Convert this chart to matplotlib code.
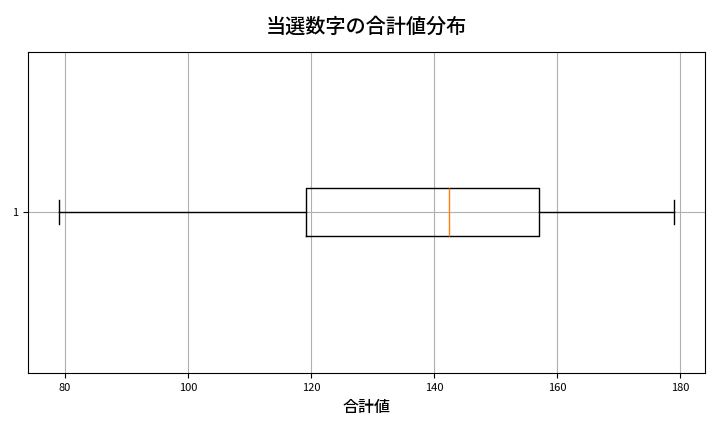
import matplotlib
matplotlib.use('Agg')
import matplotlib.pyplot as plt

plt.rcParams['font.family'] = ['Noto Sans CJK JP', 'DejaVu Sans']

# box plot summary
whisker_low = 79
q1 = 119.2
median = 142.4
q3 = 157.1
whisker_high = 179
box_label = '1'

stats = [{
    'whislo': whisker_low,
    'q1': q1,
    'med': median,
    'q3': q3,
    'whishi': whisker_high,
    'fliers': [],
    'label': box_label,
}]

fig = plt.figure(figsize=(7.2, 4.32), dpi=100)
ax = fig.add_axes([0.039, 0.137, 0.94, 0.743])
ax.bxp(stats, vert=False, showfliers=False)
ax.set_xlim(74, 184)
ax.grid(True)
ax.tick_params(labelsize=8)
ax.set_xlabel('合計値', fontsize=11.5, fontweight='medium', labelpad=5)
ax.set_title('当選数字の合計値分布', fontsize=14.5, fontweight='medium', pad=14)

fig.savefig('out.png', dpi=100)
